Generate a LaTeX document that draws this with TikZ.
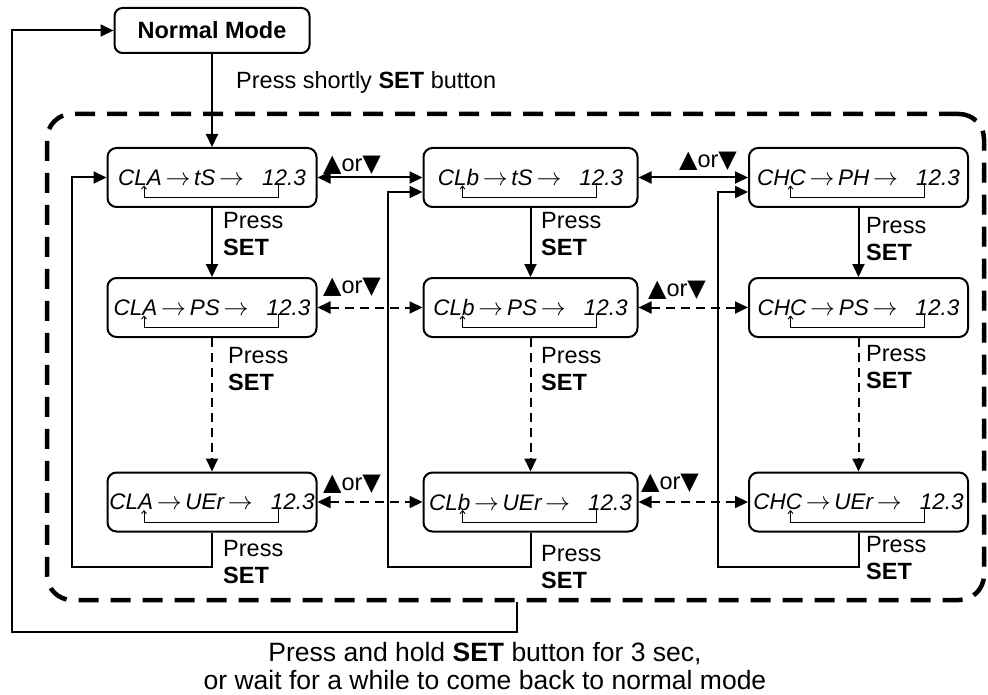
\documentclass[tikz,border=0pt]{standalone}
\usepackage{fontspec}
\setmainfont{Liberation Sans}
\newfontfamily\symfont{DejaVu Sans}
\usetikzlibrary{arrows.meta,calc}
\newcommand\updown{{\symfont\fontsize{24}{20}\selectfont ▲}or{\symfont\fontsize{24}{20}\selectfont ▼}}
\newcommand\disparrow{{\fontsize{28}{28}\selectfont$\rightarrow$}}
\newcommand\displine[3]{{\itshape #1}\,\disparrow\,{\itshape #2}\,\disparrow\hspace{18pt}{\itshape #3}}
\begin{document}
\begin{tikzpicture}[x=1pt,y=-1pt,
  every node/.style={inner sep=0pt, font=\fontsize{23.5}{27}\selectfont},
  mainline/.style={line width=2pt},
  arr/.style={mainline, -{Triangle[length=13pt,width=12pt]}},
  darr/.style={mainline, {Triangle[length=13pt,width=12pt]}-{Triangle[length=13pt,width=12pt]}},
  dline/.style={dash pattern=on 9pt off 6pt},
  dispbox/.style={draw, line width=2pt, rounded corners=9pt, minimum height=59pt,
     font=\fontsize{22.5}{24}\selectfont},
  colA/.style={dispbox, minimum width=209pt},
  colB/.style={dispbox, minimum width=214pt},
  colC/.style={dispbox, minimum width=219pt},
  loop/.style={line width=0.9pt, -{Straight Barb[length=3pt,width=5pt]}},
  lbl/.style={align=left, anchor=north west},
]
\useasboundingbox (0,0) rectangle (988,695);

% frame
\node[draw, line width=4.5pt, dash pattern=on 20pt off 12pt, rounded corners=25pt,
      minimum width=937pt, minimum height=486pt] (frame) at (515.5,357) {};

% normal mode
\node[draw, line width=2pt, rounded corners=8pt, minimum width=195pt, minimum height=45pt,
      font=\fontsize{23.5}{27}\selectfont\bfseries] (nm) at (212,30.5) {Normal Mode};

% display boxes
\node[colA] (a1) at (212,177.5) {\displine{CLA}{tS}{12.3}};
\node[colB] (b1) at (530.5,177.5) {\displine{CLb}{tS}{12.3}};
\node[colC] (c1) at (858.5,177.5) {\displine{CHC}{PH}{12.3}};
\node[colA] (a2) at (212,307.5) {\displine{CLA}{PS}{12.3}};
\node[colB] (b2) at (530.5,307.5) {\displine{CLb}{PS}{12.3}};
\node[colC] (c2) at (858.5,307.5) {\displine{CHC}{PS}{12.3}};
\node[colA] (a3) at (212,502) {\displine{CLA}{UEr}{12.3}};
\node[colB] (b3) at (530.5,502) {\displine{CLb}{UEr}{12.3}};
\node[colC] (c3) at (858.5,502) {\displine{CHC}{UEr}{12.3}};

% inner loops
\foreach \n in {a1,b1,c1,a2,b2,c2,a3,b3,c3}{
  \draw[loop] ($(\n.center)+(66,6)$) -- ++(0,14) -| ($(\n.center)+(-68,8)$);
}

% entry arrow
\draw[arr] (nm.south) -- (a1.north);
\node[anchor=west] (pss) at (236,82) {Press shortly \textbf{SET} button};

% horizontal arrows
\draw[darr] (a1.east) -- (b1.west);
\draw[darr] (b1.east) -- (c1.west);
\draw[darr, dline] (a2.east) -- (b2.west);
\draw[darr, dline] (b2.east) -- (c2.west);
\draw[darr, dline] (a3.east) -- (b3.west);
\draw[darr, dline] (b3.east) -- (c3.west);
\node (ud1) at (352,165) {\updown};
\node (ud2) at (708,161) {\updown};
\node (ud3) at (352,287) {\updown};
\node (ud4) at (677,290) {\updown};
\node (ud5) at (352,484) {\updown};
\node (ud6) at (670,483) {\updown};

% vertical arrows
\draw[arr] (a1.south) -- (a2.north);
\draw[arr] (b1.south) -- (b2.north);
\draw[arr] (c1.south) -- (c2.north);
\draw[arr, dline] (a2.south) -- (a3.north);
\draw[arr, dline] (b2.south) -- (b3.north);
\draw[arr, dline] (c2.south) -- (c3.north);
\node[lbl] (pa1) at (223,212) {Press\\\textbf{SET}};
\node[lbl] (pb1) at (541,212) {Press\\\textbf{SET}};
\node[lbl] (pc1) at (866,217) {Press\\\textbf{SET}};
\node[lbl] (pa2) at (228,347) {Press\\\textbf{SET}};
\node[lbl] (pb2) at (541,347) {Press\\\textbf{SET}};
\node[lbl] (pc2) at (866,345) {Press\\\textbf{SET}};
\node[lbl] (pa3) at (223,540) {Press\\\textbf{SET}};
\node[lbl] (pb3) at (541,545) {Press\\\textbf{SET}};
\node[lbl] (pc3) at (866,536) {Press\\\textbf{SET}};

% feedback loops
\coordinate (fa) at (72,567);
\coordinate (fb) at (388,567);
\coordinate (fc) at (718,567);
\draw[arr] (a3.south) -- (a3.south |- fa) -- (fa) |- (a1.west);
\draw[arr] (b3.south) -- (b3.south |- fb) -- (fb) |- ($(b1.west)+(0,14.5)$);
\draw[arr] (c3.south) -- (c3.south |- fc) -- (fc) |- ($(c1.west)+(0,14.5)$);

% exit loop
\coordinate (outdown) at (517,632);
\coordinate (outleft) at (12,632);
\draw[arr] (frame.south -| outdown) -- (outdown) -- (outleft) |- (nm.west);
\node[align=center, anchor=base, font=\fontsize{26.5}{28}\selectfont] (bottom) at (485,689)
  {Press and hold \textbf{SET} button for 3 sec,\\or wait for a while to come back to normal mode};
\end{tikzpicture}
\end{document}
